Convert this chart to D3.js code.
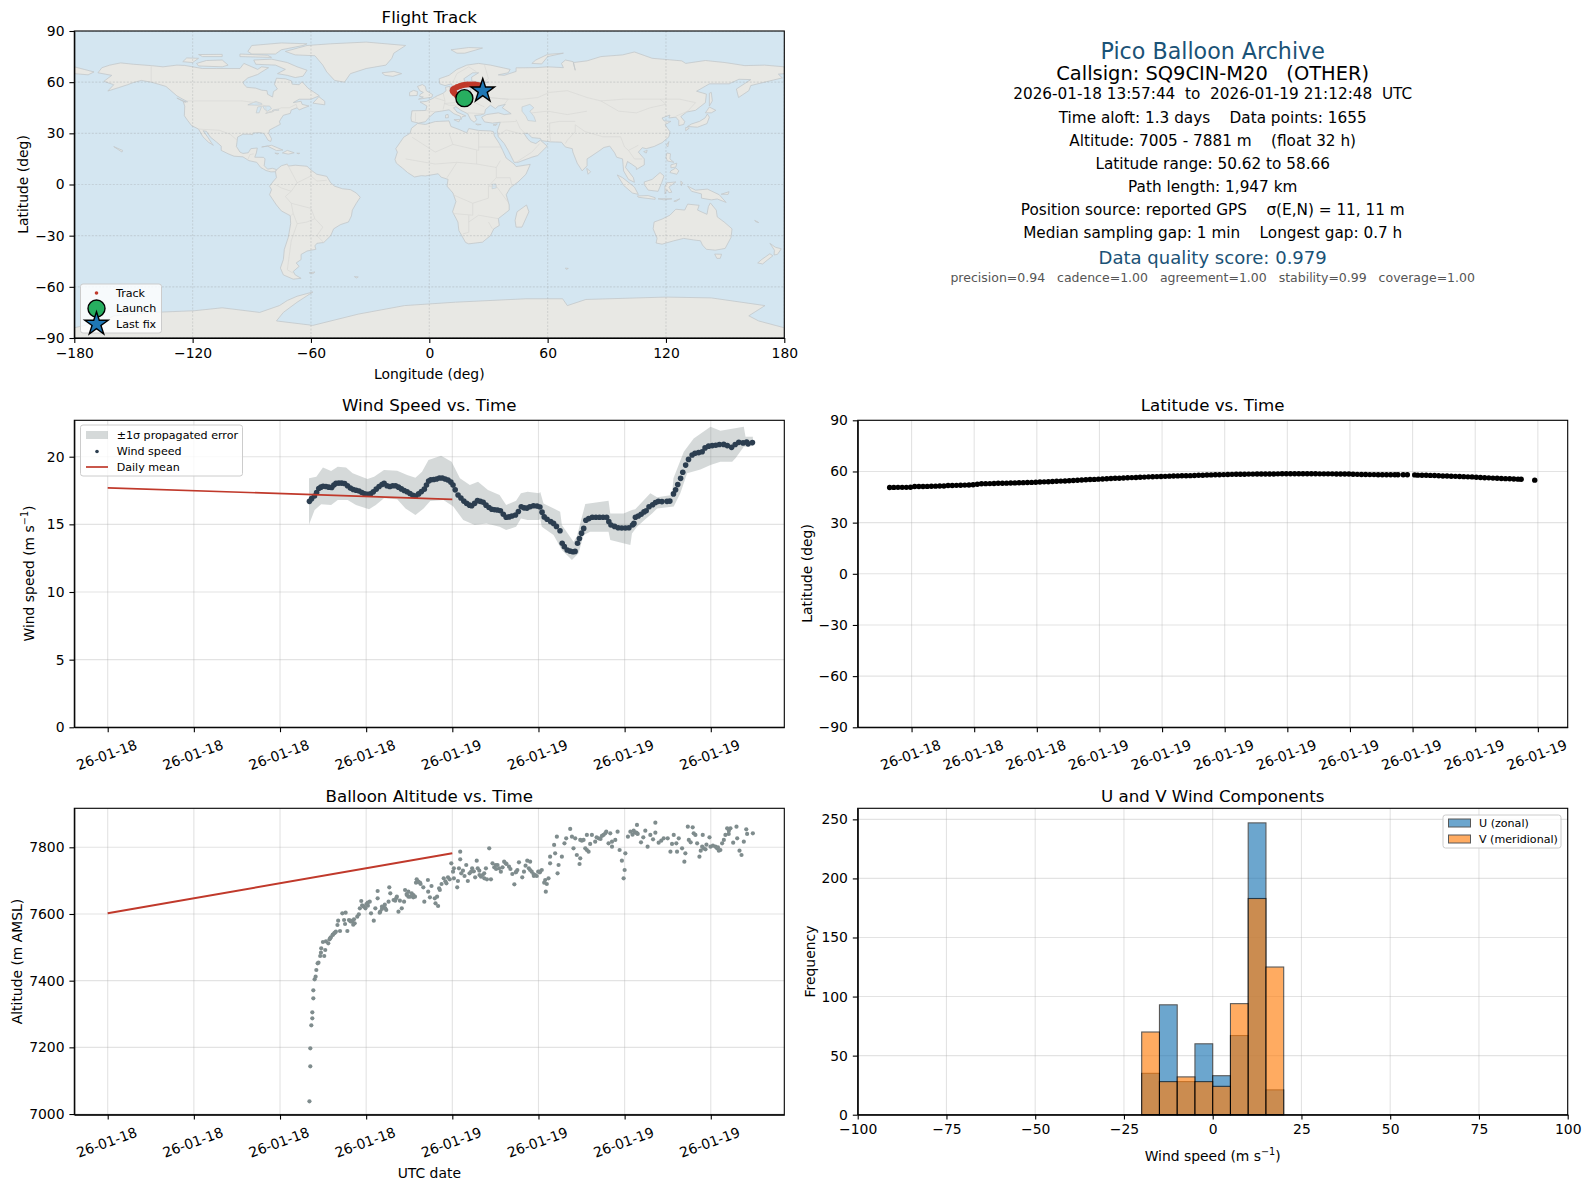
<!DOCTYPE html>
<html lang="en">
<head>
<meta charset="utf-8">
<title>Pico Balloon Archive</title>
<script type="text/javascript" src="https://d3js.org/d3.v7.min.js"></script>
<style type="text/css">
	body { margin:0; background:#fff; }
	svg { display:block; }
	text { font-family:"DejaVu Sans",sans-serif; fill:#000; white-space:pre; }
	.domain { stroke:#000; stroke-width:1.1px; }
	.tick line { stroke:#000; stroke-width:1.1px; }
	.tick text { font-family:"DejaVu Sans",sans-serif; font-size:13.9px; fill:#000; }
</style>
</head>
<body>
<svg id="chart" width="1589" height="1189"></svg>
<script type="text/javascript">
/////////  DATA  ////////////////////////////////////////////////////////
// hours are counted from 2026-01-18 00:00 UTC
var windHours=[14.05,14.2,14.4,14.55,14.7,14.85,15,15.2,15.4,15.6,15.75,15.9,16.1,16.3,16.5,16.7,16.9,17.1,17.3,17.5,17.7,17.9,18.1,18.3,18.5,18.7,18.9,19.1,19.25,19.45,19.65,19.85,20.05,20.25,20.45,20.65,20.85,21.05,21.25,21.45,21.65,21.85,22.05,22.2,22.35,22.5,22.7,22.9,23.1,23.3,23.5,23.7,23.9,24.05,24.2,24.4,24.6,24.8,25,25.2,25.35,25.55,25.75,25.95,26.15,26.35,26.55,26.75,26.95,27.15,27.35,27.55,27.75,27.95,28.15,28.4,28.6,28.8,29,29.2,29.4,29.65,29.9,30.1,30.25,30.4,30.6,30.85,31.05,31.25,31.5,31.65,31.8,32,32.2,32.4,32.55,32.72,32.85,33,33.15,33.3,33.5,33.75,34,34.25,34.5,34.75,34.9,35.05,35.3,35.55,35.8,36.05,36.3,36.55,36.65,36.75,36.95,37.15,37.35,37.5,37.7,37.95,38.15,38.35,38.6,38.95,39.15,39.4,39.55,39.7,39.9,40.05,40.25,40.45,40.7,40.9,41.15,41.4,41.6,41.85,42.1,42.35,42.6,42.9,43.15,43.45,43.7,43.95,44.25,44.5,44.6,44.9];
var windSpeed=[16.7,16.9,17.1,17.35,17.65,17.75,17.82,17.8,17.75,17.72,17.9,18.03,18.05,18.05,18.02,17.85,17.68,17.58,17.52,17.46,17.35,17.25,17.22,17.25,17.4,17.6,17.8,17.95,18.03,17.85,17.8,17.85,17.85,17.75,17.62,17.5,17.41,17.28,17.15,17.09,17.25,17.42,17.6,17.9,18.2,18.3,18.32,18.35,18.42,18.42,18.35,18.28,18.12,17.9,17.55,17.17,16.95,16.72,16.55,16.42,16.38,16.55,16.75,16.7,16.63,16.42,16.25,16.12,16.08,16.06,16,15.75,15.52,15.55,15.62,15.69,15.95,16.3,16.22,16.2,16.3,16.38,16.36,16.28,15.9,15.55,15.38,15.2,15.07,14.85,14.53,13.6,13.35,13.1,13.02,12.98,13,13.6,13.95,14.35,14.7,15.3,15.42,15.52,15.52,15.52,15.52,15.52,15.2,14.95,14.85,14.75,14.73,14.73,14.75,14.95,15.07,15.52,15.62,15.75,15.92,16,16.3,16.45,16.62,16.7,16.68,16.7,16.72,17.25,17.55,17.95,18.4,18.85,19.38,19.8,20.12,20.25,20.3,20.37,20.65,20.78,20.82,20.85,20.9,20.91,20.82,20.69,20.9,21.06,21.02,21.08,20.95,21.04];
var bandHiHours=[14.02,14.53,14.99,15.56,16.02,16.6,17.06,18.09,18.55,19.24,20.16,20.85,21.43,21.89,22.34,23.22,23.95,24.53,25.22,25.79,26.48,27.29,27.75,28.44,28.78,29.24,30.05,30.12,30.35,31.51,31.63,32.44,32.67,33.26,34.88,35,35.93,36.51,36.74,37.79,38.26,39.3,39.4,40.12,40.81,41.98,42.67,44.3,44.42,44.93];
var bandHi=[18.4,18.52,19.21,18.94,19.26,19.21,18.77,18.35,18.52,19.01,18.97,18.65,18.45,18.89,19.75,20.07,19.63,18.4,17.91,18.15,17.54,17.17,16.43,16.75,17.29,17.41,17.29,17.41,16.55,15.94,14.95,13.72,14.09,16.5,16.75,15.81,15.81,16.06,16.11,17.29,17,17.17,18.4,20.37,21.35,22.22,21.92,22.22,21.48,21.48];
var bandLoHours=[14.02,14.41,14.87,15.56,16.02,16.71,17.29,18.2,18.67,19.24,20.16,20.74,21.43,22,22.46,23.38,24.07,24.76,25.56,26.37,27.29,27.75,28.44,28.78,29.24,30.05,30.12,30.23,31.05,31.63,32.33,32.79,33.14,33.6,34.88,35,36.4,36.51,36.86,37.44,37.91,38.26,39.42,39.88,40.35,41.28,41.98,42.67,43.49,43.72,44.3,44.93];
var bandLo=[14.99,16.06,16.48,16.43,16.8,16.8,16.43,16.11,16.43,16.92,16.85,16.18,15.69,16.18,16.72,16.8,16.31,15.32,14.95,15.07,14.83,14.58,14.83,15.44,15.32,15.32,15.44,14.83,14.21,13.1,12.36,12.86,14.21,14.46,14.46,13.84,13.47,14.33,14.83,15.37,15.81,16.18,16.31,17.29,18.77,19.06,19.38,19.63,19.63,19.88,20.74,20.79];
var dailyHours=[0,24];
var dailyWind=[17.7,16.85];
var dailyAlt=[7602,7782];

var latHours=[13.95,14.15,14.35,14.55,14.75,14.95,15.15,15.35,15.55,15.75,15.95,16.15,16.35,16.55,16.75,16.95,17.15,17.35,17.55,17.75,17.95,18.15,18.35,18.55,18.75,18.95,19.15,19.35,19.55,19.75,19.95,20.15,20.35,20.55,20.75,20.95,21.15,21.35,21.55,21.75,21.95,22.15,22.35,22.55,22.75,22.95,23.15,23.35,23.55,23.75,23.95,24.15,24.35,24.55,24.75,24.95,25.15,25.35,25.55,25.75,25.95,26.15,26.35,26.55,26.75,26.95,27.15,27.35,27.55,27.75,27.95,28.15,28.35,28.55,28.75,28.95,29.15,29.35,29.55,29.75,29.95,30.15,30.35,30.55,30.75,30.95,31.15,31.35,31.55,31.75,31.95,32.15,32.35,32.55,32.75,32.95,33.15,33.35,33.55,33.75,33.95,34.15,34.35,34.55,34.75,34.95,35.15,35.35,35.55,35.75,35.95,36.15,36.35,36.55,36.75,36.95,37.15,37.35,37.55,37.75,37.95,38.15,38.3,38.55,38.75,39.1,39.25,39.45,39.65,39.85,40.05,40.25,40.45,40.65,40.85,41.05,41.25,41.45,41.65,41.85,42.05,42.25,42.45,42.65,42.85,43.05,43.25,43.45,43.65,43.85,44.05,44.2,44.85];
var latValues=[50.62,50.65,50.68,50.68,50.7,50.75,51.15,51.2,51.2,51.25,51.3,51.4,51.45,51.5,51.75,51.8,51.85,51.9,52,52.1,52.2,52.5,52.8,52.85,52.9,52.95,53.05,53.1,53.15,53.2,53.3,53.4,53.45,53.55,53.6,53.7,53.8,53.9,54,54.1,54.25,54.35,54.45,54.55,54.7,54.85,55,55.1,55.25,55.35,55.5,55.6,55.7,55.85,56,56.05,56.15,56.3,56.4,56.5,56.6,56.7,56.85,56.9,57,57.05,57.15,57.25,57.3,57.4,57.45,57.5,57.55,57.65,57.75,57.8,57.9,58,58.05,58.1,58.15,58.2,58.3,58.35,58.4,58.4,58.45,58.45,58.5,58.5,58.5,58.55,58.55,58.6,58.66,58.66,58.66,58.66,58.66,58.66,58.66,58.66,58.66,58.6,58.6,58.6,58.6,58.55,58.55,58.5,58.5,58.4,58.3,58.2,58.2,58.15,58.15,58.1,58.1,58.1,58.1,58.05,58.05,58.05,58.05,58,57.85,57.8,57.75,57.7,57.6,57.5,57.35,57.3,57.2,57.15,57.05,56.95,56.85,56.8,56.65,56.5,56.35,56.25,56.1,56,55.9,55.8,55.7,55.6,55.5,55.4,54.9];

var altHours=[14.05,14.11,14.11,14.18,14.25,14.25,14.32,14.32,14.41,14.48,14.53,14.62,14.68,14.8,15.08,14.87,15.15,14.85,14.99,15.2,15.36,15.54,15.45,15.77,15.68,15.89,16.05,16,16.18,16.34,16.57,16.46,16.69,16.53,16.8,16.9,17.03,17.2,17.1,17.38,17.49,17.56,17.66,17.84,17.72,18.02,18.25,18.12,18.34,18.53,18.64,18.8,18.8,18.98,19.22,19.1,19.4,19.3,19.56,19.61,19.68,19.91,20.14,20.02,20.25,20.48,20.35,20.64,20.71,20.94,20.82,21.17,21.28,21.4,21.52,21.6,21.75,21.98,22.05,22.3,22.55,22.32,22.44,22.78,22.83,23.01,22.94,23.13,23.25,23.4,23.52,23.59,23.82,23.7,23.93,24.11,24.11,24.05,24.34,24.55,24.55,24.39,24.46,24.74,24.62,24.97,25.08,25.2,25.38,25.7,25.77,25.59,25.5,26,25.88,26.34,26.22,26.57,26.41,26.69,26.8,26.92,27.15,27.05,27.38,27.61,27.5,27.95,27.78,28.18,28.32,28.05,28.64,28.53,28.42,28.87,29.22,29.33,29.1,29.68,29.98,29.42,29.42,29.77,30.23,30.1,30.47,30.51,30.7,30.81,30.81,30.58,31.09,31.28,31.16,31.33,31.4,31.63,31.81,31.93,32.21,32.33,32.56,32.44,32.67,32.86,32.91,33.02,33.37,33.37,33.49,33.72,33.6,33.95,34.19,34.05,34.53,34.32,34.72,35,34.88,35.12,35.51,35.35,35.65,36.05,35.81,36,35.93,36.23,36.4,36.55,36.7,36.86,36.86,37.14,37.44,37.3,37.6,37.79,38.14,38.14,37.98,38.37,38.72,38.55,39,39.19,39.42,39.3,39.65,39.77,40,40.16,40.23,40.4,40.47,40.74,40.81,40.6,41.05,41.21,41.44,41.51,41.3,41.91,41.98,41.7,42.33,42.15,42.67,42.5,42.91,43.14,43.37,43.25,43.56,43.79,43.84,44,44.14,44.3,44.47,44.53,44.93,
	21.63,21.79,21.47,18.94,19.1,19.33,15.66,15.82,15.49,17.79,18.11,17.95,20.83,21.06,21.29,20.94,16.92,17.15,20.09,23.08,24.85,25.31,25.89,26.11,26.23,27.03,27.26,27.72,28.46,28.99,29.53,29.65,29.88,30.07,30.4,34.65,34.42,35.12,36.63,36.81,36.91,41.4,41.63,42.44,42.56,42.79,43.02,43.26,40.93,39.6,32.91,33.14,33.26];
var altValues=[7038,7143,7197,7266,7287,7305,7347,7371,7404,7412,7432,7452,7454,7474,7474,7497,7492,7484,7516,7518,7512,7530,7524,7542,7538,7547,7580,7567,7549,7602,7604,7582,7549,7570,7582,7578,7577,7572,7568,7592,7599,7617,7639,7622,7626,7630,7637,7625,7602,7580,7617,7669,7647,7607,7622,7615,7612,7628,7637,7680,7662,7642,7652,7640,7607,7617,7640,7637,7672,7652,7660,7662,7650,7652,7704,7697,7694,7680,7637,7702,7684,7667,7650,7647,7632,7624,7652,7672,7690,7707,7698,7692,7704,7710,7752,7707,7737,7727,7680,7787,7764,7699,7737,7730,7722,7747,7699,7722,7737,7760,7737,7710,7728,7712,7730,7737,7722,7797,7704,7704,7752,7740,7747,7735,7727,7757,7740,7742,7750,7720,7689,7735,7755,7732,7725,7710,7760,7737,7745,7714,7727,7757,7732,7717,7732,7725,7702,7667,7707,7752,7772,7690,7807,7832,7782,7722,7747,7772,7812,7827,7855,7832,7827,7797,7777,7750,7767,7820,7792,7837,7787,7837,7810,7817,7827,7830,7837,7825,7847,7842,7812,7802,7847,7822,7792,7782,7760,7732,7707,7832,7847,7838,7845,7867,7842,7815,7850,7830,7802,7837,7874,7844,7824,7814,7827,7820,7827,7787,7837,7810,7787,7827,7797,7757,7782,7862,7822,7860,7842,7815,7812,7772,7837,7797,7790,7830,7802,7808,7802,7805,7792,7800,7822,7857,7857,7840,7814,7862,7827,7790,7777,7817,7854,7840,7842,
	7697,7690,7694,7604,7622,7617,7537,7544,7527,7624,7634,7617,7657,7652,7657,7667,7580,7584,7647,7677,7714,7727,7717,7717,7707,7747,7737,7752,7727,7727,7727,7720,7714,7727,7694,7842,7834,7817,7850,7844,7840,7802,7794,7797,7790,7812,7837,7850,7837,7812,7822,7822,7797];

var histBins=[-20,-15,-10,-5,0,5,10,15];
var histU=[35,93,28,60,33,67,247,21];
var histV=[70,28,32,28,24,94,183,125];

var trackLon=[16.3,15,13.9,12.9,12.2,11.85,12.1,13,14.2,15.6,16.8,18.1,19.3,20.6,21.9,23.2,24.5,25.7,26.6];
var trackLat=[50.62,51.6,52.4,53.4,54.2,55,55.8,56.4,57.2,57.8,58.2,58.5,58.6,58.66,58.66,58.6,58.3,58.1,56];
var launchFix=[17.8,50.62];
var lastFix=[27.1,54.9];

var lonTicks=[-180,-120,-60,0,60,120,180];
var latTicks=[-90,-60,-30,0,30,60,90];
var windTicks=[0,5,10,15,20];
var altTicks=[7000,7200,7400,7600,7800];
var freqTicks=[0,50,100,150,200,250];
var speedTicks=[-100,-75,-50,-25,0,25,50,75,100];
var wideTimeTicks=[0,6,12,18,24,30,36,42];
var wideTimeLabels=["26-01-18","26-01-18","26-01-18","26-01-18","26-01-19","26-01-19","26-01-19","26-01-19"];
var latTimeTicks=[15,18,21,24,27,30,33,36,39,42,45];
var latTimeLabels=["26-01-18","26-01-18","26-01-18","26-01-19","26-01-19","26-01-19","26-01-19","26-01-19","26-01-19","26-01-19","26-01-19"];

var infoLines=[
	["Pico Balloon Archive",50.5,22.2,"#1a5276"],
	["Callsign: SQ9CIN-M20   (OTHER)",73,19.44,"#000"],
	["2026-01-18 13:57:44  to  2026-01-19 21:12:48  UTC",94,15.28,"#000"],
	["Time aloft: 1.3 days    Data points: 1655",118,15.28,"#000"],
	["Altitude: 7005 - 7881 m    (float 32 h)",140.5,15.28,"#000"],
	["Latitude range: 50.62 to 58.66",163.5,15.28,"#000"],
	["Path length: 1,947 km",186.5,15.28,"#000"],
	["Position source: reported GPS    \u03c3(E,N) = 11, 11 m",209.5,15.28,"#000"],
	["Median sampling gap: 1 min    Longest gap: 0.7 h",232.5,15.28,"#000"],
	["Data quality score: 0.979",257,18.06,"#1a5276"],
	["precision=0.94   cadence=1.00   agreement=1.00   stability=0.99   coverage=1.00",277.5,12.5,"#555"]
];

/////////  COASTLINES (lon,lat by eye)  /////////////////////////////////
var landPolys=[
	// north america
	[[-168,65.5],[-166,68.5],[-162,70],[-156.5,71.3],[-150,70.5],[-141,69.7],[-135,69],[-128,70],[-124,69.8],[-115,68],[-108,68],[-100,68],[-96,68],[-94,71],[-90,69],[-87,67.5],[-85,69],[-81.5,68.5],[-85,66],[-87,64.5],[-92,62.5],[-94.5,60],[-94,58.7],[-92.5,57],[-88,56.5],[-85,55.3],[-82.3,55],[-82,52.9],[-79.5,51.3],[-79,54.5],[-77,56],[-78.5,58.7],[-77.5,62.3],[-73,62],[-70,60.8],[-69.5,58.8],[-66,58.5],[-64.5,60.3],[-61.5,56.5],[-57,53],[-55.8,52],[-60,50],[-66,50],[-69,48],[-65,48.8],[-64.5,47],[-61,46],[-64,44.7],[-66,43.7],[-67,45],[-70,43.7],[-70.5,41.7],[-74,40.6],[-75.5,38],[-76,36.8],[-75.5,35.3],[-78,33.8],[-81,32],[-81.4,30],[-80,26.8],[-80.4,25.2],[-81.8,26],[-82.8,28],[-84,30],[-86,30.4],[-89.5,30.2],[-89.5,29.2],[-91.5,29.5],[-94.5,29.5],[-97.2,27.8],[-97.5,25],[-97.8,22.3],[-96,19],[-94.5,18.2],[-91.8,18.6],[-90.5,21],[-87.2,21.4],[-87.7,18.5],[-88.5,16],[-84,15.9],[-83.3,15],[-83.7,11],[-82,9],[-79.5,9.5],[-77.4,8.7],[-78,7.5],[-80.3,7.4],[-82.8,8.2],[-85.5,10],[-87.5,13],[-91.5,14],[-94.5,16.2],[-99,16.6],[-102,18],[-105.5,20],[-105.5,22.5],[-108,25],[-111,27.8],[-113,31.2],[-114.7,31.5],[-112.5,28],[-110.2,24],[-109.5,23],[-112,24.8],[-114.8,28],[-117,32.5],[-120.5,34.5],[-122.5,37.5],[-124.2,40.3],[-124,46],[-124.7,48.4],[-122.5,48.5],[-125,50],[-128,52],[-130.5,54.5],[-133.5,57.5],[-137,58.7],[-141,60],[-146,61],[-150,59.8],[-153,58.5],[-157.5,56.8],[-163,54.8],[-160,58.5],[-165,60.5],[-161,64]],
	// arctic canada
	[[-80,73.5],[-72,71.5],[-67,69],[-62,67],[-64,63.5],[-68,62.7],[-72,64],[-77,65],[-73,67.5],[-78,70],[-88,70.5],[-89,73]],
	[[-117,69.5],[-105,69],[-102,70],[-105,73],[-113,72.7],[-118,71]],
	[[-125,72],[-120,71.5],[-117,74],[-123,74.2]],
	[[-90,76.5],[-78,76.5],[-75,79],[-64,81.5],[-62,82.5],[-75,83],[-90,81.5],[-92,78]],
	[[-96,75],[-80,74.5],[-82,75.8],[-96,76.5]],
	[[-115,75],[-105,75],[-105,76.3],[-117,76.2]],
	[[-59,47.7],[-53,46.7],[-53,48.8],[-56,51.5]],
	[[-128,50.7],[-123.5,48.4],[-125,48.8]],
	// greenland
	[[-73,78],[-68,76],[-58,75.5],[-54,70],[-52,66],[-48,61],[-43,60],[-40,65],[-32,68],[-22,70],[-19,74],[-18,77],[-12,81.5],[-32,83.5],[-50,82.5],[-62,81.5]],
	// south america
	[[-77.4,8.7],[-75,11],[-72,12],[-71.5,10.8],[-68,11.3],[-62,10.7],[-60,8.5],[-57,6],[-52,4.8],[-50,1],[-48,-1],[-44,-2.5],[-40,-3],[-37,-5],[-35,-7.5],[-37,-11],[-39,-15],[-39.5,-18.5],[-41,-22],[-45,-23.5],[-48.5,-26],[-50,-30],[-53.5,-34],[-57,-34.5],[-58,-36],[-57.5,-38],[-62,-39],[-65,-41],[-65,-44],[-67.5,-46],[-66,-48],[-69,-51],[-68,-53],[-65,-55],[-69,-55.5],[-74,-53],[-75.5,-49],[-74,-44],[-73.5,-38],[-71.5,-31],[-70.3,-23],[-70.5,-18.3],[-75,-15.5],[-77.5,-12],[-81,-6],[-80,-3],[-81,-1],[-79,2],[-77.5,4],[-78,7.5]],
	// africa
	[[-5.9,35.8],[-2,35.2],[3,36.9],[10,37.3],[11,34],[15,32.3],[19,30.3],[20,32.8],[25,31.7],[31,31.4],[32.5,31],[33,28.5],[35.5,24],[37.2,20],[39,15.5],[43,12],[44,10.5],[51.2,11.8],[49,6],[45,1.5],[41,-2],[39,-6],[40.5,-12],[40.5,-15],[35,-20],[35.5,-24],[32.7,-26],[31,-30],[27,-33.8],[20,-34.8],[18.4,-34],[15,-27],[14.5,-22],[11.8,-16],[13.5,-10],[12,-5],[9,-1],[9.5,3],[6,4.3],[4.5,6.3],[-2,5],[-4,5.2],[-7.5,4.4],[-11,7],[-13.5,9.5],[-16.7,12.5],[-17.4,14.7],[-16.2,19],[-17,21],[-13,27.7],[-9.8,30],[-9,33]],
	// eurasia
	[[-9,37],[-9.3,39],[-8.8,43.2],[-1.8,43.4],[-1.2,46],[-4.7,48.4],[-1.5,48.7],[1.5,50.3],[4,52],[7,53.5],[8.5,55],[8.2,57],[10.5,57.6],[10.3,55],[11,54],[14,54],[18.5,54.7],[21,55],[21.2,57],[24.2,57.5],[23.5,59.3],[28,59.5],[30,60],[25,60],[21.5,60.7],[21.5,63],[25,65.5],[22,65.5],[17.5,62],[18.5,59.5],[16.5,57],[14.3,55.5],[12.8,55.5],[11.2,59],[8,58],[5.3,59],[5,62],[10,64],[14,67.5],[19,70],[25,71],[31,70],[41,67.5],[40,65.5],[35,64.3],[38,64],[44,66.3],[44,68.4],[54,68.5],[60,69],[68,68.5],[67,71],[69,73],[73,72],[74,67],[73,71.5],[80,72.5],[87,75],[98,76],[104,77.7],[113,74],[128,72.5],[130,71],[140,72.7],[150,71.5],[160,69.7],[170,70],[180,69],[180,65],[177,64.7],[179,62.5],[170,60],[163,58],[162,55],[156.8,51],[155.7,56],[163,61.5],[157,61.7],[152,59],[142,59],[135.5,54.7],[140.5,53],[140,48],[135,43.5],[130.5,42.5],[127.5,39.8],[129.5,37],[129,35.2],[126.5,34.5],[126.5,37.5],[125,39.5],[121.5,39],[122,40.7],[118,39],[119,37.3],[122.5,37],[119.5,35],[122,31],[121.5,28],[118,24.5],[114,22.3],[110,21],[108,21.6],[106,19],[109,15],[109,11.5],[105,8.8],[105,10],[102.5,12],[100.5,13.5],[99.5,10],[103.5,4],[104,1.3],[101,3],[98.5,8],[98,15],[95,16],[94,18.5],[91.5,22.5],[88.5,21.7],[86.5,20],[82,16.5],[80,15],[80,11],[77.5,8],[75,12.5],[72.8,19],[72.5,21],[69,22],[67,24.8],[61.5,25],[57,25.7],[56.3,27],[52,27.5],[50,30],[48,30],[50,26.5],[51.5,25],[54,24],[56.3,26],[59.8,22.5],[55,17],[52,16],[45,13],[43,13],[40,20],[38,24],[35,28],[34.5,31.5],[36,36.5],[32,36],[28,36.7],[26.5,39.5],[29,41],[35,42],[38,41],[41.5,41.5],[37,45],[38.5,47],[35,46],[33.5,44.5],[31,46.5],[28.5,44],[28,41.5],[26,40.8],[23,40.5],[24,38],[22.8,36.5],[21,38],[19.5,41.5],[16,43.5],[13.5,45.6],[12.3,45],[14,42.5],[18.5,40.2],[16.7,39.8],[16,38],[15.8,40],[12.5,41.5],[10,43.8],[6,43],[3,42.5],[0,39.5],[-2,36.8],[-5.5,36]],
	// chukotka past the dateline
	[[-180,69],[-175,67.5],[-170,66],[-173,64.3],[-180,65]],
	// europe and north atlantic islands
	[[-5.5,50],[1.3,51.2],[1.7,52.7],[-1.5,55],[-2,57.5],[-3.5,58.6],[-6,57.5],[-4.8,55],[-3,54],[-4.5,53],[-5,51.7],[-3,51.3]],
	[[-10,52],[-6.2,52.2],[-6,54.5],[-8,55.2],[-10,54]],
	[[-24,65.5],[-18,66.3],[-14,65],[-18.5,63.4],[-22.5,64]],
	[[11,79],[20,80.3],[27,80],[18,77],[14,77]],
	[[52,71],[57,70.7],[60,75],[68,77],[60,76.3],[54,73]],
	[[12.5,38],[15.5,38.2],[15,36.7]],
	[[8.2,39],[9.7,39.2],[9.5,41.1],[8.3,40.8]],
	[[23.5,35.5],[26.3,35.2],[24.5,34.9]],
	[[32.3,34.9],[34.5,35.6],[33.8,34.6]],
	// east asia
	[[130.9,34],[136,33.6],[140.8,35.7],[142,39.5],[141,41.3],[139.8,39],[137,37],[133,35.5]],
	[[140,42],[143,42],[145.3,43.5],[142,45.4]],
	[[130,31.5],[131.8,33],[130,33.5]],
	[[142,46],[143.5,49],[143,54],[142,53.5]],
	[[120.2,23],[121.5,25.2],[120.9,22]],
	[[108.7,19.3],[110.5,20],[110,18.4]],
	[[79.8,9.5],[81.8,7.5],[80.5,6]],
	// southeast asia
	[[120.5,18.5],[122.3,18],[122,15],[124,13],[120.7,13.8],[120,16]],
	[[122,7],[125.5,6],[126.5,8],[125,9.7],[122.5,8]],
	[[122.5,11.5],[125.5,12.5],[125,10.2],[122.5,9.8]],
	[[95.3,5.6],[98,4],[104,-1.5],[106,-5.8],[103,-5],[98.5,-0.5]],
	[[105.5,-6.7],[111,-6.5],[114.5,-7.7],[114.5,-8.7],[106,-7.5]],
	[[116,-8.4],[119,-8.3],[123,-8.4],[119,-9]],
	[[124,-9.8],[127,-8.4],[125,-10]],
	[[109,1.5],[113,3],[117,7],[119,5],[117.8,1],[116,-4],[111,-3.3],[109,0]],
	[[119.5,-5.5],[120.5,-3],[121.5,-4.8],[123,-4.5],[121.5,-1.5],[125,1.5],[120.5,1],[119.5,-1]],
	[[127.5,2],[128.5,1],[127.8,-0.7]],
	[[131,-1],[135,-3.3],[141,-2.7],[147,-6],[150.5,-10.5],[146,-8.5],[143,-9],[138,-8],[138,-5.5],[133,-4]],
	[[148,-5.7],[152,-4.2],[151.5,-5.8]],
	// oceania
	[[114,-22],[113.5,-26],[115.5,-31.5],[115,-34.3],[118,-35],[124,-33],[129,-31.6],[134,-32.5],[137.5,-33],[138.5,-35.5],[140.5,-38],[145,-38.5],[150,-37.5],[153,-31],[153.5,-26],[149.5,-22],[146,-19],[145.5,-15],[142.5,-10.8],[141.5,-13],[140.8,-17.5],[136,-15],[136.8,-12.2],[131,-11.5],[129.5,-15],[125,-14.5],[122,-18],[118,-20.3]],
	[[144.7,-40.8],[148.2,-40.9],[147.5,-43.3],[145.8,-43.3]],
	[[172.7,-34.5],[175.5,-36.8],[178.5,-37.7],[176.5,-41],[174.8,-41.3],[175,-38.5]],
	[[172.7,-40.6],[174.2,-41.8],[171.2,-44.5],[169,-46.6],[166.5,-46],[168.5,-44]],
	[[165,-21],[167,-22.3],[165.5,-21.8]],
	[[49.3,-12],[50.5,-16],[47,-25],[44,-25],[43.5,-21],[44.5,-16]],
	// caribbean and others
	[[-85,22],[-80,23],[-74.2,20.2],[-77.5,19.9],[-82,22.5]],
	[[-74.5,18.5],[-72,20],[-68.5,18.6],[-71.5,17.8]],
	[[-78.3,18.4],[-76.3,18.2],[-77,17.8]],
	[[-67.2,18.4],[-65.7,18.3],[-66.5,18]],
	[[-61,-51.8],[-58,-51.3],[-59,-52.3]],
	[[-160,22.2],[-155.5,20],[-155.8,19]],
	[[-38,-54],[-36,-54.2],[-37,-54.8]],
	[[69,-49],[70.5,-49.2],[69.5,-49.8]],
	// antarctica
	[[-180,-84],[-180,-90],[180,-90],[180,-84],[167,-80],[162,-77],[170.2,-71],[143,-66.5],[120,-66],[79.4,-67.4],[70,-71],[67.6,-67],[49,-67],[13.3,-69],[-12.6,-71],[-36,-76],[-59,-82.6],[-77.5,-80],[-74,-75],[-67,-69],[-59,-63],[-67,-65.5],[-72,-68],[-76,-71],[-86,-75],[-105,-72.3],[-119,-74],[-140,-75],[-160,-77],[-165,-80]]
];
var lakes=[
	[[-92,46.7],[-88,48.7],[-85,47.5],[-85,46.6],[-88,46.5]],
	[[-87.8,42],[-86.3,42],[-85,45.7],[-87,45.5]],
	[[-84.5,46],[-81,46],[-80,44.5],[-82,43],[-83.5,44]],
	[[-83,41.7],[-79,42.8],[-81,42.6]],
	[[-79.7,43.3],[-76.3,43.5],[-76.5,44.2],[-79,43.8]],
	[[47,45.5],[51,47],[53,45],[51,43],[53,40],[54,37],[50,37.5],[49,40],[47,43]],
	[[31.8,-2.5],[34,-2],[33.8,0.3],[32,0.2]]
];
var borders=[
	[[-123,49],[-95,49],[-88,48],[-83,46],[-82.5,42],[-79,43],[-75,45],[-71,45],[-67.5,47],[-67,45]],
	[[-141,69.7],[-141,60]],
	[[-117,32.5],[-106.5,31.8],[-101,29.5],[-97.5,26]],
	[[-92,14.5],[-91,17.5],[-89,18]],
	[[-72,12],[-67,1],[-70,-4],[-73,-7],[-70,-11],[-69,-17],[-70,-18]],
	[[-67,1],[-60,5],[-60,8.5]],
	[[-70,-11],[-60,-14],[-58,-20],[-54,-25],[-57,-30],[-53.5,-34]],
	[[-69,-17],[-67,-23],[-70,-33],[-72,-50],[-69,-52]],
	[[-58,-20],[-62,-22],[-67,-23]],
	[[-78,0],[-75,-2],[-70,-4]],
	[[-60,5],[-57,2],[-52,2.5]],
	[[12,23.5],[25,20],[25,31.7]],
	[[25,22],[36.5,22]],
	[[-8.7,27.7],[3,19],[12,23.5],[10,30]],
	[[-12,15],[3,12],[14,13],[24,12],[24,20]],
	[[14,13],[9,4]],
	[[24,12],[34,10],[36,14]],
	[[34,10],[34,4],[41,4],[42,-1]],
	[[34,4],[30,-1],[30,-8],[22,-11],[12,-6]],
	[[30,-1],[34,-1],[40,-10.5]],
	[[22,-11],[22,-18],[12,-17]],
	[[20,-18],[20,-28],[17,-29]],
	[[35,-20],[25,-18],[20,-22]],
	[[30,-22],[32,-26]],
	[[-1.8,43.4],[3,42.5]],
	[[-7,37],[-7,42]],
	[[2.5,51],[8,49],[7,44]],
	[[8,49],[7,53.5]],
	[[14,54],[15,51],[23,50],[24,54],[21,55]],
	[[15,51],[13,48],[7.5,47.5],[10,46.5],[13.5,46.5],[17,48],[23,48],[28,45.5]],
	[[23,50],[30,51],[40,50],[38,47]],
	[[24,54],[28,56],[28,59.5]],
	[[20,69],[24,66]],
	[[28,70],[30,62],[28,60.5]],
	[[12,60],[14,65],[20,69]],
	[[19.5,42],[28,41.5]],
	[[30,51],[40,50],[47,50],[55,51],[61,54],[70,55],[80,51],[87,49],[98,50],[108,50],[117,50],[127,50],[135,48],[131,43]],
	[[87,49],[96,43],[105,42],[112,45],[120,47],[117,50]],
	[[74,35],[79,31],[88,28],[97,28],[99,22],[101,20],[106,23]],
	[[74,35],[74,31],[70,26],[69,24]],
	[[44,38],[46,33],[48.5,30]],
	[[61,36],[61,30],[61.5,25]],
	[[52,42],[60,43],[70,41],[80,43]],
	[[61,36],[66,37],[74,37]],
	[[36,36.5],[44,37]],
	[[35,29],[39,32],[47,29.5]],
	[[44,13],[52,19],[56,24]],
	[[101,20],[104,15],[108,15]],
	[[131,43],[125,40]]
];

/////////  LAYOUT  //////////////////////////////////////////////////////
var leftX=[74.3,784.3];
var rightX=[857.7,1567.7];
var topY=[31,338];
var midY=[420.3,727.3];
var lowY=[808.3,1114.7];

var svg=d3.select("#chart");

function hourDate(h){ return new Date(Date.UTC(2026,0,18)+h*3600000); }

function addGrid(g,x,y,xTicks,yTicks,xr,yr,color,op,dash){
	g.selectAll(".gx").data(xTicks).enter().append("line")
		.attr("x1",d=>x(d)).attr("x2",d=>x(d)).attr("y1",yr[0]).attr("y2",yr[1])
		.attr("stroke",color).attr("stroke-opacity",op).attr("stroke-width",1.1).attr("stroke-dasharray",dash);
	g.selectAll(".gy").data(yTicks).enter().append("line")
		.attr("x1",xr[0]).attr("x2",xr[1]).attr("y1",d=>y(d)).attr("y2",d=>y(d))
		.attr("stroke",color).attr("stroke-opacity",op).attr("stroke-width",1.1).attr("stroke-dasharray",dash);
}

function addBox(xr,yr){
	svg.append("rect").attr("x",xr[0]).attr("y",yr[0]).attr("width",xr[1]-xr[0]).attr("height",yr[1]-yr[0])
		.attr("fill","none").attr("stroke","#000").attr("stroke-width",1.1);
}

function minusFmt(d){ return String(d).replace("-","\u2212"); }

function addYAxis(y,xr,ticks){
	svg.append("g").attr("transform","translate("+xr[0]+",0)")
		.call(d3.axisLeft(y).tickValues(ticks).tickSize(4.9).tickSizeOuter(0).tickPadding(4.9).tickFormat(minusFmt));
}

function addXAxis(x,yr,ticks){
	svg.append("g").attr("transform","translate(0,"+yr[1]+")")
		.call(d3.axisBottom(x).tickValues(ticks).tickSize(4.9).tickSizeOuter(0).tickPadding(4.9).tickFormat(minusFmt));
}

function addTimeAxis(x,yr,ticks,labels){
	var ax=svg.append("g").attr("transform","translate(0,"+yr[1]+")")
		.call(d3.axisBottom(x).tickValues(ticks.map(hourDate)).tickSize(4.9).tickSizeOuter(0).tickFormat((d,i)=>labels[i]));
	ax.selectAll(".tick text")
		.attr("y",0).attr("dy",null).attr("text-anchor","middle").attr("dominant-baseline","central")
		.attr("transform","translate(-1.5,27.5) rotate(-20)");
}

function addLabel(txt,x,y,size,rot){
	var t=svg.append("text").attr("text-anchor","middle").attr("dominant-baseline","central")
		.attr("font-size",size).text(txt);
	if(rot){ t.attr("transform","translate("+x+","+y+") rotate(-90)"); }
	else { t.attr("x",x).attr("y",y); }
	return t;
}

function addUnitLabel(x,y,rot){
	// "Wind speed (m s-1)" with a raised exponent
	var t=svg.append("text").attr("text-anchor","middle").attr("dominant-baseline","central").attr("font-size",13.9);
	if(rot){ t.attr("transform","translate("+x+","+y+") rotate(-90)"); }
	else { t.attr("x",x).attr("y",y); }
	t.append("tspan").text("Wind speed (m s");
	t.append("tspan").attr("font-size",9.7).attr("dy",-5).text("\u22121");
	t.append("tspan").attr("dy",5).text(")");
}

function addLegendBox(x,y,w,h){
	svg.append("rect").attr("x",x).attr("y",y).attr("width",w).attr("height",h).attr("rx",2.5)
		.attr("fill","#fff").attr("fill-opacity",0.8).attr("stroke","#ccc").attr("stroke-width",1);
}

function legendText(txt,x,y,size){
	svg.append("text").attr("x",x).attr("y",y).attr("dominant-baseline","central").attr("font-size",size).text(txt);
}

var gridColor="#b0b0b0";

/////////  FLIGHT TRACK  ////////////////////////////////////////////////
var lonX=d3.scaleLinear().domain([-180,180]).range(leftX);
var latY=d3.scaleLinear().domain([-90,90]).range([topY[1],topY[0]]);
var geoLine=d3.line().x(d=>lonX(d[0])).y(d=>latY(d[1]));

svg.append("clipPath").attr("id","mapclip").append("rect")
	.attr("x",leftX[0]).attr("y",topY[0]).attr("width",leftX[1]-leftX[0]).attr("height",topY[1]-topY[0]);
var map=svg.append("g").attr("clip-path","url(#mapclip)");
map.append("rect").attr("x",leftX[0]).attr("y",topY[0]).attr("width",leftX[1]-leftX[0]).attr("height",topY[1]-topY[0]).attr("fill","#d4e6f1");
map.selectAll(".land").data(landPolys).enter().append("path")
	.attr("d",d=>geoLine(d)+"Z").attr("fill","#e8e8e4").attr("stroke","#c3c8ca").attr("stroke-width",0.8).attr("stroke-linejoin","round");
map.selectAll(".lake").data(lakes).enter().append("path")
	.attr("d",d=>geoLine(d)+"Z").attr("fill","#d4e6f1").attr("stroke","#c3c8ca").attr("stroke-width",0.6);
map.selectAll(".border").data(borders).enter().append("path")
	.attr("d",d=>geoLine(d)).attr("fill","none").attr("stroke","#d8d9d6").attr("stroke-width",0.7);
addGrid(map,lonX,latY,lonTicks,latTicks,leftX,topY,"#9aa0a3",0.3,"2,1.5");
map.selectAll(".track").data(trackLon).enter().append("circle")
	.attr("cx",d=>lonX(d)).attr("cy",(d,i)=>latY(trackLat[i])).attr("r",3).attr("fill","#c0392b");
map.append("circle").attr("cx",lonX(launchFix[0])).attr("cy",latY(launchFix[1])).attr("r",8.5)
	.attr("fill","#27ae60").attr("stroke","#000").attr("stroke-width",1.4);
map.append("path").attr("transform","translate("+lonX(lastFix[0])+","+latY(lastFix[1])+")")
	.attr("d",d3.symbol().type(d3.symbolStar).size(170)()).attr("fill","#1f77b4").attr("stroke","#000").attr("stroke-width",1.4);
addBox(leftX,topY);
addYAxis(latY,leftX,latTicks);
addXAxis(lonX,topY,lonTicks);
addLabel("Flight Track",429.3,17.5,16.67);
addLabel("Longitude (deg)",429.3,374,13.9);
addLabel("Latitude (deg)",22.5,184.5,13.9,true);

addLegendBox(80.5,284,81,49);
svg.append("circle").attr("cx",96.5).attr("cy",293).attr("r",1.8).attr("fill","#c0392b");
svg.append("circle").attr("cx",96.5).attr("cy",308.5).attr("r",8.5).attr("fill","#27ae60").attr("stroke","#000").attr("stroke-width",1.4);
svg.append("path").attr("transform","translate(96.5,324)")
	.attr("d",d3.symbol().type(d3.symbolStar).size(170)()).attr("fill","#1f77b4").attr("stroke","#000").attr("stroke-width",1.4);
legendText("Track",116,293,11.1);
legendText("Launch",116,308.5,11.1);
legendText("Last fix",116,324,11.1);

/////////  INFO PANEL  //////////////////////////////////////////////////
svg.selectAll(".info").data(infoLines).enter().append("text")
	.attr("class","info").attr("x",1212.7).attr("y",d=>d[1]).attr("text-anchor","middle")
	.attr("dominant-baseline","central").attr("font-size",d=>d[2]).style("fill",d=>d[3]).text(d=>d[0]);

/////////  WIND SPEED  //////////////////////////////////////////////////
var timeX=d3.scaleUtc().domain([hourDate(-2.326),hourDate(47.12)]).range(leftX);
var windY=d3.scaleLinear().domain([0,22.69]).range([midY[1],midY[0]]);
var wind=svg.append("g");
addGrid(wind,timeX,windY,wideTimeTicks.map(hourDate),windTicks,leftX,midY,gridColor,0.35,null);
var bandPts=bandHiHours.map((h,i)=>[h,bandHi[i]]).concat(bandLoHours.map((h,i)=>[h,bandLo[i]]).reverse());
wind.append("path")
	.attr("d",d3.line().x(d=>timeX(hourDate(d[0]))).y(d=>windY(d[1]))(bandPts)+"Z")
	.attr("fill","#7f8c8d").attr("fill-opacity",0.33);
wind.selectAll(".windDot").data(windHours).enter().append("circle")
	.attr("cx",d=>timeX(hourDate(d))).attr("cy",(d,i)=>windY(windSpeed[i])).attr("r",2.8).attr("fill","#2c3e50");
wind.append("path")
	.attr("d",d3.line().x(d=>timeX(hourDate(d))).y((d,i)=>windY(dailyWind[i]))(dailyHours))
	.attr("fill","none").attr("stroke","#c0392b").attr("stroke-width",1.7);
addBox(leftX,midY);
addYAxis(windY,leftX,windTicks);
addTimeAxis(timeX,midY,wideTimeTicks,wideTimeLabels);
addLabel("Wind Speed vs. Time",429.3,405.8,16.67);
addUnitLabel(28.5,573.5,true);

addLegendBox(80.5,425,162,51);
svg.append("rect").attr("x",86).attr("y",431).attr("width",22).attr("height",8).attr("fill","#7f8c8d").attr("fill-opacity",0.33);
svg.append("circle").attr("cx",97).attr("cy",451.5).attr("r",1.8).attr("fill","#2c3e50");
svg.append("line").attr("x1",86).attr("x2",108).attr("y1",467).attr("y2",467).attr("stroke","#c0392b").attr("stroke-width",1.7);
legendText("\u00b11\u03c3 propagated error",116.7,435.5,11.1);
legendText("Wind speed",116.7,451.5,11.1);
legendText("Daily mean",116.7,467,11.1);

/////////  LATITUDE  ////////////////////////////////////////////////////
var latTimeX=d3.scaleUtc().domain([hourDate(12.42),hourDate(46.43)]).range(rightX);
var latAxisY=d3.scaleLinear().domain([-90,90]).range([midY[1],midY[0]]);
var lat=svg.append("g");
addGrid(lat,latTimeX,latAxisY,latTimeTicks.map(hourDate),latTicks,rightX,midY,gridColor,0.35,null);
lat.selectAll(".latDot").data(latHours).enter().append("circle")
	.attr("cx",d=>latTimeX(hourDate(d))).attr("cy",(d,i)=>latAxisY(latValues[i])).attr("r",2.7).attr("fill","#000");
addBox(rightX,midY);
addYAxis(latAxisY,rightX,latTicks);
addTimeAxis(latTimeX,midY,latTimeTicks,latTimeLabels);
addLabel("Latitude vs. Time",1212.7,405.8,16.67);
addLabel("Latitude (deg)",806.5,573.5,13.9,true);

/////////  ALTITUDE  ////////////////////////////////////////////////////
var altY=d3.scaleLinear().domain([6998,7917]).range([lowY[1],lowY[0]]);
var alt=svg.append("g");
addGrid(alt,timeX,altY,wideTimeTicks.map(hourDate),altTicks,leftX,lowY,gridColor,0.35,null);
alt.selectAll(".altDot").data(altHours).enter().append("circle")
	.attr("cx",d=>timeX(hourDate(d))).attr("cy",(d,i)=>altY(altValues[i])).attr("r",2.1).attr("fill","#7f8c8d");
alt.append("path")
	.attr("d",d3.line().x(d=>timeX(hourDate(d))).y((d,i)=>altY(dailyAlt[i]))(dailyHours))
	.attr("fill","none").attr("stroke","#c0392b").attr("stroke-width",2);
addBox(leftX,lowY);
addYAxis(altY,leftX,altTicks);
addTimeAxis(timeX,lowY,wideTimeTicks,wideTimeLabels);
addLabel("Balloon Altitude vs. Time",429.3,796.5,16.67);
addLabel("Altitude (m AMSL)",16.5,961.5,13.9,true);
addLabel("UTC date",429.3,1173,13.9);

/////////  U AND V HISTOGRAM  ///////////////////////////////////////////
var speedX=d3.scaleLinear().domain([-100,100]).range(rightX);
var freqY=d3.scaleLinear().domain([0,259.35]).range([lowY[1],lowY[0]]);
var hist=svg.append("g");
addGrid(hist,speedX,freqY,speedTicks,freqTicks,rightX,lowY,gridColor,0.35,null);
function addBars(name,values,color){
	hist.selectAll("."+name).data(values).enter().append("rect")
		.attr("class",name)
		.attr("x",(d,i)=>speedX(histBins[i])).attr("width",(d,i)=>speedX(histBins[i]+5)-speedX(histBins[i]))
		.attr("y",d=>freqY(d)).attr("height",d=>freqY(0)-freqY(d))
		.attr("fill",color).attr("stroke","#000").attr("stroke-width",1.1).attr("opacity",0.65);
}
addBars("barU",histU,"#1f77b4");
addBars("barV",histV,"#ff7f0e");
addBox(rightX,lowY);
addYAxis(freqY,rightX,freqTicks);
addXAxis(speedX,lowY,speedTicks);
addLabel("U and V Wind Components",1212.7,796.5,16.67);
addLabel("Frequency",809.5,961.5,13.9,true);
addUnitLabel(1212.7,1156,false);

addLegendBox(1443,815,118,33);
svg.append("rect").attr("x",1448.5).attr("y",819).attr("width",22).attr("height",8).attr("fill","#1f77b4").attr("stroke","#000").attr("opacity",0.65);
svg.append("rect").attr("x",1448.5).attr("y",835).attr("width",22).attr("height",8).attr("fill","#ff7f0e").attr("stroke","#000").attr("opacity",0.65);
legendText("U (zonal)",1479,823,11.1);
legendText("V (meridional)",1479,839,11.1);
</script>
</body>
</html>
